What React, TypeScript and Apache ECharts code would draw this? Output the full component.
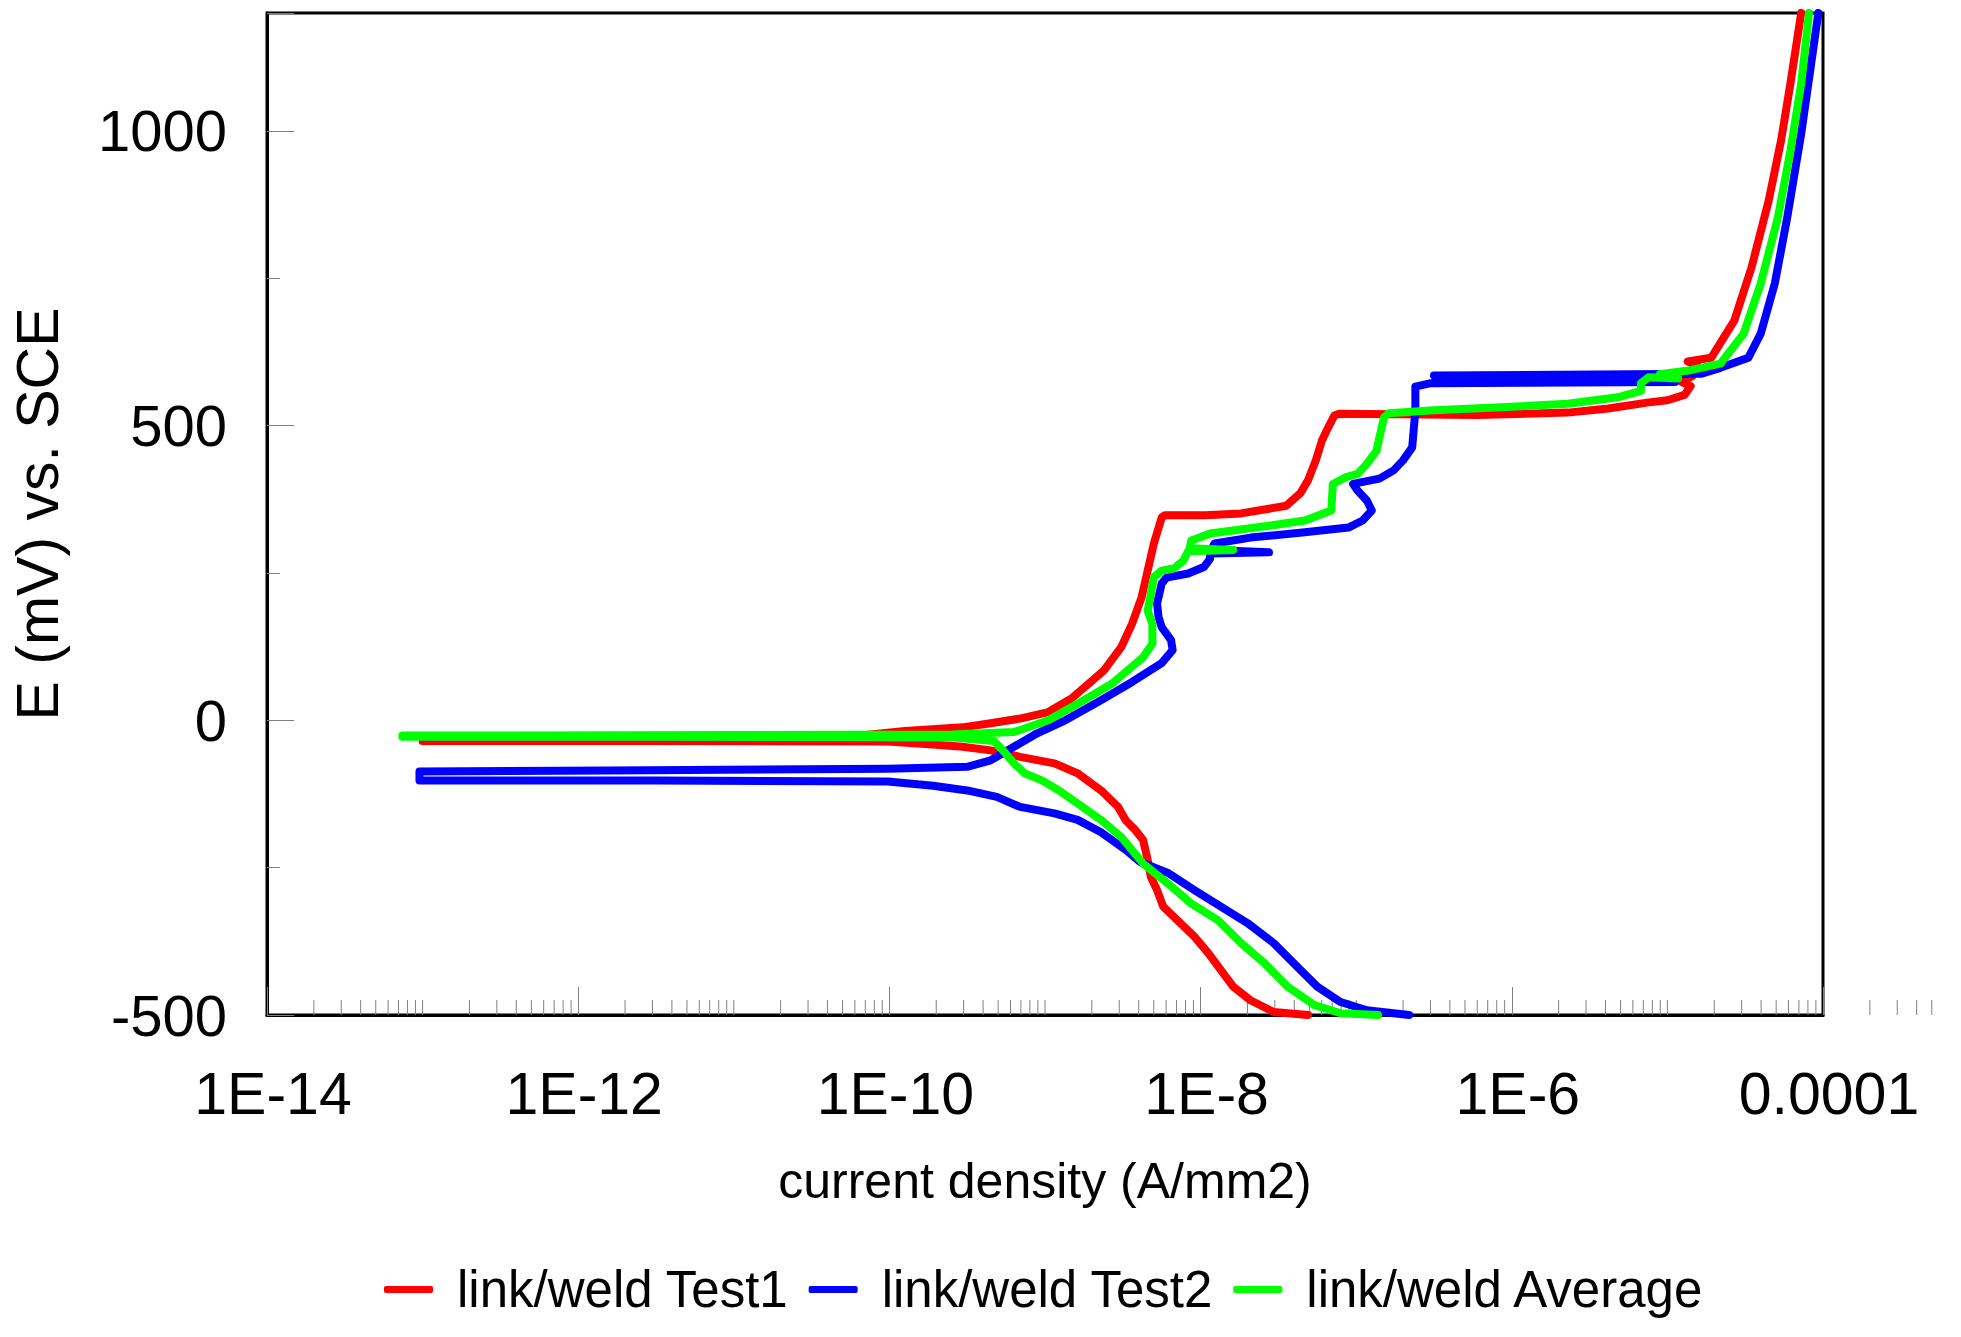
import React, { useEffect, useRef } from 'react';
import * as echarts from 'echarts';

const seriesNames = ['link/weld Test1', 'link/weld Test2', 'link/weld Average'];
const seriesColors = ['#ff0000', '#0000ff', '#00ff00'];

// Test1 (red): current density (A/mm2) and potential (mV vs SCE), in scan order
const test1Current = [
  4.9e-8, 2.95e-8, 2.09e-8, 1.62e-8, 1.35e-8, 1.12e-8, 9.12e-9, 7.08e-9, 5.75e-9, 5.25e-9,
  4.79e-9, 4.57e-9, 4.27e-9, 3.8e-9, 3.31e-9, 2.95e-9, 2.29e-9, 1.62e-9, 1.15e-9, 6.92e-10,
  4.47e-10, 2.95e-10, 1.91e-10, 9.77e-11, 3.16e-12, 1.0e-13, 1.0e-13, 6.31e-11, 1.26e-10, 2.95e-10,
  4.47e-10, 6.92e-10, 1.05e-9, 1.48e-9, 2.4e-9, 3.09e-9, 3.63e-9, 4.17e-9, 4.57e-9, 5.01e-9,
  5.62e-9, 5.89e-9, 1.07e-8, 1.82e-8, 2.75e-8, 3.55e-8, 4.37e-8, 4.9e-8, 5.5e-8, 6.03e-8,
  6.61e-8, 7.24e-8, 7.76e-8, 6.03e-7, 2.29e-6, 4.17e-6, 7.41e-6, 1.0e-5, 1.29e-5, 1.41e-5,
  1.23e-5, 1.45e-5, 1.58e-5, 1.35e-5, 1.91e-5, 2.69e-5, 3.47e-5, 4.47e-5, 5.37e-5, 6.17e-5,
  7.24e-5,
];
const test1Potential = [
  -500, -495, -475, -452, -424, -395, -367, -339, -316, -288,
  -266, -237, -203, -186, -170, -147, -119, -90, -73, -62,
  -51, -45, -41, -36, -35, -35, -28, -26, -18, -12,
  -5, 3, 14, 37, 85, 124, 164, 208, 254, 300,
  344, 348, 348, 351, 359, 364, 385, 407, 441, 475,
  497, 517, 520, 518, 522, 529, 539, 543, 552, 567,
  574, 584, 600, 609, 615, 678, 768, 881, 983, 1080,
  1200,
];

// Test2 (blue)
const test2Current = [
  2.19e-7, 1.17e-7, 7.94e-8, 5.62e-8, 4.17e-8, 2.95e-8, 2.0e-8, 1.35e-8, 9.12e-9, 6.17e-9,
  4.07e-9, 3.31e-9, 2.29e-9, 1.62e-9, 1.15e-9, 6.92e-10, 4.9e-10, 3.16e-10, 1.91e-10, 9.77e-11,
  3.16e-12, 9.55e-14, 9.55e-14, 1.58e-12, 9.77e-11, 3.16e-10, 4.47e-10, 6.31e-10, 8.91e-10, 1.35e-9,
  2.29e-9, 3.63e-9, 5.62e-9, 6.61e-9, 6.46e-9, 5.62e-9, 5.37e-9, 5.25e-9, 5.62e-9, 6.03e-9,
  8.32e-9, 1.05e-8, 1.15e-8, 1.15e-8, 2.75e-8, 1.17e-8, 1.23e-8, 2.09e-8, 4.68e-8, 8.91e-8,
  1.1e-7, 1.26e-7, 1.17e-7, 1.02e-7, 9.55e-8, 1.41e-7, 1.74e-7, 2.0e-7, 2.29e-7, 2.34e-7,
  2.4e-7, 2.4e-7, 3.02e-7, 1.12e-5, 3.55e-7, 1.12e-5, 3.16e-7, 1.66e-5, 2.19e-5, 3.31e-5,
  3.98e-5, 4.9e-5, 5.89e-5, 7.24e-5, 8.32e-5, 9.33e-5,
];
const test2Potential = [
  -500, -492, -478, -452, -418, -378, -344, -316, -288, -259,
  -240, -220, -190, -169, -158, -147, -130, -119, -111, -104,
  -102, -102, -87, -85, -82, -79, -68, -45, -22, 0,
  34, 65, 97, 119, 136, 158, 175, 198, 232, 242,
  249, 260, 274, 283, 285, 289, 300, 310, 319, 327,
  339, 356, 373, 390, 401, 410, 424, 441, 463, 492,
  525, 566, 572, 574, 578, 581, 585, 588, 598, 615,
  656, 741, 853, 995, 1107, 1200,
];

// Average (green)
const averageCurrent = [
  1.38e-7, 7.94e-8, 5.37e-8, 3.63e-8, 2.57e-8, 1.82e-8, 1.29e-8, 8.71e-9, 6.17e-9, 4.27e-9,
  3.09e-9, 2.29e-9, 1.62e-9, 1.23e-9, 9.55e-10, 7.41e-10, 6.31e-10, 5.37e-10, 4.68e-10, 2.51e-10,
  3.16e-12, 7.41e-14, 7.41e-14, 1.0e-11, 2.51e-10, 6.31e-10, 1.05e-9, 1.62e-9, 2.69e-9, 4.27e-9,
  4.9e-9, 4.9e-9, 4.57e-9, 4.79e-9, 5.01e-9, 5.62e-9, 6.76e-9, 7.76e-9, 8.32e-9, 1.62e-8,
  8.51e-9, 8.71e-9, 1.15e-8, 1.62e-8, 2.75e-8, 4.68e-8, 6.92e-8, 7.08e-8, 8.51e-8, 1.02e-7,
  1.17e-7, 1.35e-7, 1.41e-7, 1.51e-7, 1.62e-7, 3.16e-7, 8.51e-7, 2.29e-6, 4.79e-6, 6.76e-6,
  6.76e-6, 7.59e-6, 1.17e-5, 8.91e-6, 1.41e-5, 2.19e-5, 3.09e-5, 3.98e-5, 5.13e-5, 6.17e-5,
  7.24e-5, 8.13e-5,
];
const averagePotential = [
  -500, -497, -483, -452, -412, -378, -339, -311, -277, -243,
  -198, -169, -141, -119, -102, -90, -73, -51, -35, -29,
  -28, -28, -26, -25, -24, -20, 0, 28, 62, 107,
  130, 163, 186, 215, 243, 254, 258, 271, 287, 289,
  292, 305, 317, 322, 330, 339, 356, 401, 412, 418,
  435, 457, 480, 514, 521, 526, 531, 537, 548, 559,
  572, 582, 580, 587, 594, 605, 656, 741, 853, 966,
  1080, 1200,
];

// Axis ticks
const xTickExponents = [-14, -12, -10, -8, -6, -4];
const xTickLabels = ['1E-14', '1E-12', '1E-10', '1E-8', '1E-6', '0.0001'];
const yTickLabels = [-500, 0, 500, 1000];
const minorTickMantissas = [2, 3, 4, 5, 6, 7, 8, 9];
const minorDecades = [-14, -13, -12, -11, -10, -9, -8, -7, -6, -5];
const extraTicksBeyond = [2e-4, 3e-4, 4e-4, 5e-4];

const FONT = '"Liberation Sans", Arial, Helvetica, sans-serif';

function zip(c: number[], p: number[]) {
  return c.map((v, i) => [v, p[i]]);
}

function buildMinorTicks() {
  const out: number[][] = [];
  minorDecades.forEach((d) => {
    if (Math.abs(d) % 2 === 1) out.push([Math.pow(10, d), -500]);
    minorTickMantissas.forEach((m) => out.push([m * Math.pow(10, d), -500]));
  });
  extraTicksBeyond.forEach((v) => out.push([v, -500]));
  return out;
}

export default function App() {
  const ref = useRef<HTMLDivElement>(null);
  useEffect(() => {
    if (!ref.current) return;
    const chart = echarts.init(ref.current, undefined, { renderer: 'svg' });
    const lineSeries = [
      zip(test1Current, test1Potential),
      zip(test2Current, test2Potential),
      zip(averageCurrent, averagePotential),
    ].map((data, i) => ({
      type: 'line',
      name: seriesNames[i],
      data,
      showSymbol: false,
      symbol: 'none',
      z: 3 + i,
      lineStyle: { color: seriesColors[i], width: 8, cap: 'round', join: 'round' },
      itemStyle: { color: seriesColors[i] },
    }));
    chart.setOption({
      animation: false,
      backgroundColor: '#ffffff',
      grid: {
        left: 267,
        right: 138,
        top: 13,
        bottom: 322,
        show: true,
        borderColor: '#000000',
        borderWidth: 3,
        backgroundColor: 'transparent',
      },
      legend: {
        data: seriesNames,
        left: 384,
        top: 1264,
        padding: 0,
        icon: 'roundRect',
        itemWidth: 49,
        itemHeight: 7,
        itemGap: 20,
        textStyle: { fontFamily: FONT, fontSize: 51, color: '#000', padding: [0, 0, 0, 19] },
      },
      xAxis: {
        type: 'log',
        logBase: 100,
        min: 1e-14,
        max: 1e-4,
        name: 'current density (A/mm2)',
        nameLocation: 'middle',
        nameGap: 141,
        nameTextStyle: { fontFamily: FONT, fontSize: 50, color: '#000' },
        axisLine: { show: true, onZero: false, lineStyle: { color: '#000', width: 3 } },
        axisTick: { show: true, inside: true, length: 28, lineStyle: { color: '#808080', width: 1 } },
        minorTick: { show: false },
        splitLine: { show: false },
        axisLabel: {
          margin: 49,
          fontFamily: FONT,
          fontSize: 59,
          color: '#000',
          padding: [0, 0, 0, 12],
          formatter: (v: number) => {
            const e = Math.round(Math.log10(v));
            const i = xTickExponents.indexOf(e);
            return i >= 0 ? xTickLabels[i] : '';
          },
        },
      },
      yAxis: {
        type: 'value',
        min: -500,
        max: 1200,
        interval: 500,
        name: 'E (mV) vs. SCE',
        nameLocation: 'middle',
        nameGap: 200,
        nameTextStyle: { fontFamily: FONT, fontSize: 59, color: '#000' },
        axisLine: { show: true, lineStyle: { color: '#000', width: 3 } },
        axisTick: { show: true, inside: true, length: 27, lineStyle: { color: '#808080', width: 1 } },
        minorTick: { show: true, splitNumber: 2, length: 13, lineStyle: { color: '#808080', width: 1 } },
        splitLine: { show: false },
        axisLabel: {
          margin: 40,
          fontFamily: FONT,
          fontSize: 58,
          color: '#000',
          formatter: (v: number) => (yTickLabels.indexOf(v) >= 0 ? String(v) : ''),
        },
      },
      series: [
        {
          type: 'custom',
          name: 'minorTicks',
          silent: true,
          clip: false,
          z: 1,
          data: buildMinorTicks(),
          renderItem: (params: any, api: any) => {
            const p = api.coord([api.value(0), api.value(1)]);
            return {
              type: 'line',
              shape: { x1: p[0], y1: p[1], x2: p[0], y2: p[1] - 15 },
              style: { stroke: '#808080', lineWidth: 1 },
            };
          },
        },
        ...lineSeries,
      ],
    });
    return () => chart.dispose();
  }, []);
  return (
    <div
      ref={ref}
      style={{ position: 'absolute', left: 0, top: 0, width: 1961, height: 1337, background: '#fff' }}
    />
  );
}
